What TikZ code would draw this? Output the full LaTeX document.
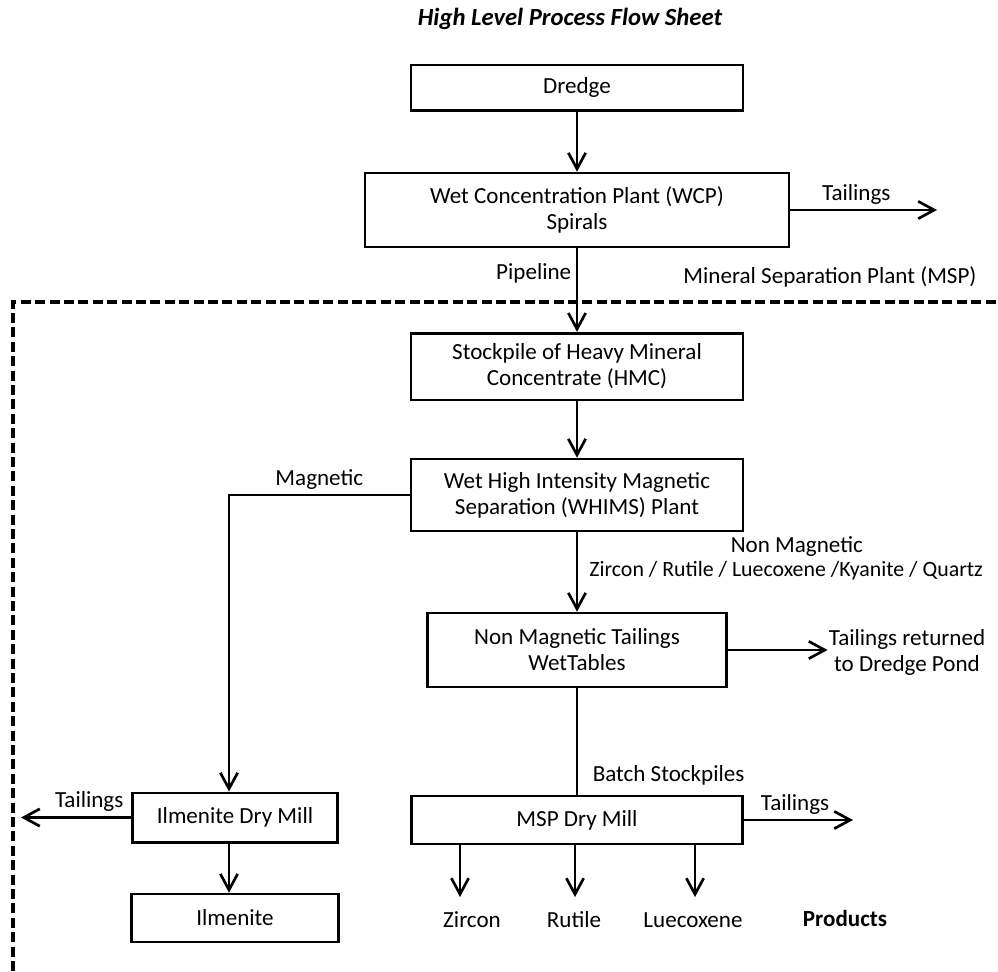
\documentclass[tikz,border=0pt]{standalone}
\usepackage{fontspec}
\setmainfont{Carlito}
\usetikzlibrary{positioning,arrows.meta}
\tikzset{%
  process box/.style={
    rectangle,
    draw,
    align=center,
    inner sep=2pt
  },
  frame line/.style={
    line width=2.4pt,
    dash pattern=on 7.5pt off 3.3pt
  },
}

\begin{document}
\begin{tikzpicture}[x=0.75pt, y=-0.75pt, line width=2pt,
  >={Straight Barb[length=12pt,width=13pt]},
  font=\fontsize{17.3}{19.5}\selectfont]

\useasboundingbox (0,0) rectangle (998,971);

\node [font=\fontsize{18.5}{21}\selectfont\bfseries\itshape] (title) at (570,19)
  {High Level Process Flow Sheet};

% main column
\node [process box, minimum width=249pt, minimum height=34pt] (dredge) at (577,87.5) {Dredge};
\node [process box, minimum width=318pt, minimum height=55.5pt] (wcp) at (577,210)
  {Wet Concentration Plant (WCP)\\Spirals};
\node [process box, minimum width=249pt, minimum height=50pt] (hmc) at (577,366.5)
  {Stockpile of Heavy Mineral\\Concentrate (HMC)};
\node [process box, minimum width=249pt, minimum height=54pt] (whims) at (577,495)
  {Wet High Intensity Magnetic\\Separation (WHIMS) Plant};
\node [process box, minimum width=224pt, minimum height=55.5pt] (nmt) at (577,650)
  {Non Magnetic Tailings\\WetTables};
\node [process box, minimum width=248pt, minimum height=36pt] (msp) at (577,820) {MSP Dry Mill};

% ilmenite column
\node [process box, minimum width=154pt, minimum height=37pt] (idm) at (235,817.5) {Ilmenite Dry Mill};
\node [process box, minimum width=155pt, minimum height=36pt] (ilm) at (235,918) {Ilmenite};

% plant boundary
\draw [frame line] (1010,302) -| (13,990);

\node (msp-label) at (830,277) {Mineral Separation Plant (MSP)};

\coordinate (wcp-out) at (937,210);
\coordinate (mag-turn) at (229,495);
\coordinate (idm-out) at (21,817.5);
\coordinate (msp-out) at (853,820);

\draw [->] (dredge) -- (wcp);
\draw [->] (wcp.east) -- (wcp-out)
  node [above, pos=0.45] {Tailings};
\draw [->] (wcp) -- (hmc)
  node [left, pos=0.3] {Pipeline};
\draw [->] (hmc) -- (whims);

\draw [->] (whims.west) -- (mag-turn)
  node [above, midway] {Magnetic}
  -- (mag-turn |- idm.north);

\draw [->] (whims) -- (nmt);
\node [anchor=west] (nonmag) at (725,546) {Non Magnetic};
\node [anchor=west, inner sep=0pt, font=\fontsize{16.4}{19.5}\selectfont] (minerals) at (588,571)
  {Zircon / Rutile / Luecoxene /Kyanite / Quartz};

\node [align=center, inner sep=0pt] (returned) at (907,652) {Tailings returned\\to Dredge Pond};
\draw [->] (nmt.east) -- (returned.west |- nmt.east);

\draw (nmt) -- (msp);
\node [anchor=west] (batch) at (587,775) {Batch Stockpiles};

\draw [->] (idm.west) -- (idm-out)
  node [above, pos=0.38] {Tailings};
\draw [->] (idm.south -| mag-turn) -- (ilm.north -| mag-turn);

\draw [->] (msp.east) -- (msp-out)
  node [above, pos=0.47] {Tailings};

\foreach \l/\px/\lx [count=\i] in {Zircon/460/472, Rutile/575/574, Luecoxene/695/693}
{
  \coordinate (product-\i) at (\px,897);
  \draw [->] (msp.south -| product-\i) -- (product-\i);
  \node (product-label-\i) at (\lx,920) {\l};
}

\node [font=\fontsize{17.3}{19.5}\selectfont\bfseries] (products) at (845,918) {Products};

\end{tikzpicture}
\end{document}
